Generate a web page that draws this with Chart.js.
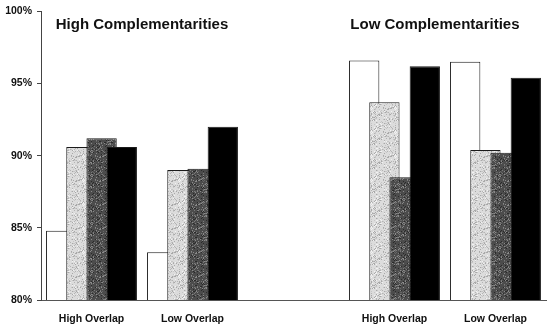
<!DOCTYPE html>
<html>
<head>
<meta charset="utf-8">
<script src="https://cdn.jsdelivr.net/npm/chart.js"></script>
<style>
  html, body { margin: 0; padding: 0; background: #fff; }
  #wrap { width: 549px; height: 329px; }
</style>
</head>
<body>
<div id="wrap"><canvas id="chart" width="549" height="329"></canvas></div>
<script>
// Categories (blank slot separates the two panels)
const categories = ["High Overlap", "Low Overlap", "", "High Overlap", "Low Overlap"];
const groupTitles = ["High Complementarities", "Low Complementarities"];
const yTicks = [80, 85, 90, 95, 100];

// Series values (percent)
const seriesWhite = [84.8, 83.3, null, 96.6, 96.5];
const seriesLight = [90.6, 89.0, null, 93.7, 90.4];
const seriesDark  = [91.2, 89.1, null, 88.5, 90.2];
const seriesBlack = [90.6, 92.0, null, 96.2, 95.4];

// Speckled fill like the scanned original (fixed seed, texture only)
function speckle(base, dots) {
  const c = document.createElement('canvas');
  c.width = 24; c.height = 24;
  const g = c.getContext('2d');
  g.fillStyle = base;
  g.fillRect(0, 0, 24, 24);
  let s = 12345;
  const rnd = () => { s = (s * 1103515245 + 12345) & 0x7fffffff; return s / 0x7fffffff; };
  for (let i = 0; i < 220; i++) {
    g.fillStyle = dots[Math.floor(rnd() * dots.length)];
    g.fillRect(Math.floor(rnd() * 24), Math.floor(rnd() * 24), 1, 1);
  }
  return g.createPattern(c, 'repeat');
}

const ctx = document.getElementById('chart').getContext('2d');
const lightFill = speckle('#dcdcdc', ['#b4b4b4', '#c6c6c6', '#f2f2f2', '#a8a8a8']);
const darkFill = speckle('#4c4c4c', ['#7a7a7a', '#2a2a2a', '#666666', '#8a8a8a']);

// overlapping bars: later series must sit on top of earlier ones
const drawOrder = {
  id: 'drawOrder',
  beforeDatasetsDraw(chart) {
    const a = chart.chartArea;
    const c = chart.ctx;
    c.save();
    c.beginPath();
    c.rect(a.left, a.top - 2, a.right - a.left, a.bottom - a.top + 2);
    c.clip();
    for (let i = 0; i < chart.data.datasets.length; i++) {
      chart.getDatasetMeta(i).controller.draw();
    }
    c.restore();
    return false;
  }
};

const titlePlugin = {
  id: 'groupTitles',
  afterDraw(chart) {
    const x = chart.scales.x;
    const c = chart.ctx;
    c.save();
    c.font = 'bold 15px "Liberation Sans", Arial, sans-serif';
    c.fillStyle = '#111';
    c.textAlign = 'center';
    c.textBaseline = 'middle';
    c.fillText(groupTitles[0], x.getPixelForValue(0.5), 25);
    c.fillText(groupTitles[1], x.getPixelForValue(3.4), 25);
    c.restore();
  }
};

const common = { borderColor: '#1a1a1a', borderWidth: 1, categoryPercentage: 0.8, barPercentage: 1.5 };

new Chart(ctx, {
  type: 'bar',
  data: {
    labels: categories,
    datasets: [
      Object.assign({ data: seriesWhite, backgroundColor: '#ffffff' }, common),
      Object.assign({ data: seriesLight, backgroundColor: lightFill }, common),
      Object.assign({ data: seriesDark, backgroundColor: darkFill }, common),
      Object.assign({ data: seriesBlack, backgroundColor: '#000000' }, common)
    ]
  },
  options: {
    responsive: false,
    animation: false,
    layout: { padding: { top: 7, right: 3, left: 0, bottom: 0 } },
    plugins: { legend: { display: false }, tooltip: { enabled: false } },
    scales: {
      x: {
        grid: { display: false },
        border: { display: true, color: '#555', width: 1 },
        ticks: {
          color: '#111',
          font: { family: '"Liberation Sans", Arial, sans-serif', size: 10.5, weight: 'bold' },
          padding: 5,
          maxRotation: 0,
          autoSkip: false
        },
        afterFit(s) { s.height = 29; }
      },
      y: {
        min: 80,
        max: 100,
        afterBuildTicks(s) { s.ticks = yTicks.map(v => ({ value: v })); },
        grid: { drawOnChartArea: false, drawTicks: true, tickLength: 4, color: '#444' },
        border: { display: true, color: '#444', width: 1 },
        ticks: {
          color: '#111',
          font: { family: '"Liberation Sans", Arial, sans-serif', size: 10.5, weight: 'bold' },
          padding: 5,
          callback: v => v + '%'
        },
        afterFit(s) { s.width = 41; }
      }
    }
  },
  plugins: [drawOrder, titlePlugin]
});
</script>
</body>
</html>
